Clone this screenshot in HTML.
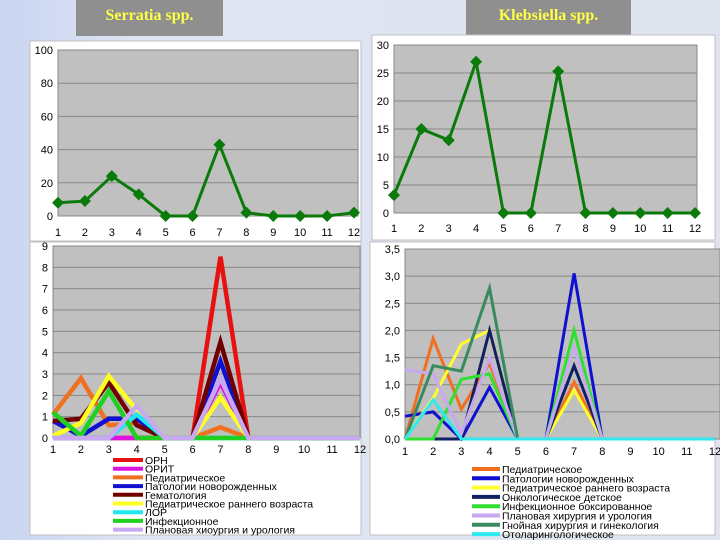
<!DOCTYPE html>
<html><head><meta charset="utf-8">
<style>
html,body{margin:0;padding:0}
body{width:720px;height:540px;overflow:hidden;position:relative;background:linear-gradient(90deg,#c9d5f2 0%,#dfe5f3 20%,#dfe4ef 100%);font-family:"Liberation Sans",sans-serif}
.title{position:absolute;top:0;height:36px;background:#8f8f8f;color:#ffff44;font-family:"Liberation Serif",serif;font-weight:bold;font-size:16px;text-align:center;line-height:32px}
svg{position:absolute;left:0;top:0}
</style></head><body>
<div class="title" style="left:76px;width:147px">Serratia spp.</div>
<div class="title" style="left:466px;width:165px">Klebsiella spp.</div>
<svg id="s" width="720" height="540" xmlns="http://www.w3.org/2000/svg"></svg>
<script>
const months=[1,2,3,4,5,6,7,8,9,10,11,12];
const serratiaValues=[8,9,24,13,0,0,43,2,0,0,0,2];
const serratiaTicks=[0,20,40,60,80,100];
const klebsiellaValues=[3.2,15,13,27,0,0,25.3,0,0,0,0,0];
const klebsiellaTicks=[0,5,10,15,20,25,30];
const blNames=["ОРН","ОРИТ","Педиатрическое","Патологии новорожденных","Гематология","Педиатрическое раннего возраста","ЛОР","Инфекционное","Плановая хиоургия и урология"];
const blColors=["#e81010","#e010e0","#f07020","#1010d0","#700000","#ffff20","#20e8f0","#20d020","#c8a8f0"];
const blValues=[
[0,0,0,0,0,0,8.5,0,0,0,0,0],
[0,0,0,0,0,0,2.6,0,0,0,0,0],
[1.1,2.8,0.6,0.7,0,0,0.5,0,0,0,0,0],
[0.8,0.1,0.9,0.9,0,0,3.6,0,0,0,0,0],
[0.8,0.9,2.6,0.6,0,0,4.5,0,0,0,0,0],
[0.1,0.7,2.9,1.3,0,0,1.9,0,0,0,0,0],
[0,0,0,1.1,0,0,0,0,0,0,0,0],
[1.2,0.1,2.2,0,0,0,0,0,0,0,0,0],
[0,0,0,1.5,0,0,2.8,0,0,0,0,0]];
const blTicks=[0,1,2,3,4,5,6,7,8,9];
const brNames=["Педиатрическое","Патологии новорожденных","Педиатрическое раннего возраста","Онкологическое детское","Инфекционное боксированное","Плановая хирургия и урология","Гнойная хирургия  и гинекология","Отоларингологическое"];
const brColors=["#f07020","#1010d0","#ffff30","#102060","#30e030","#c8a8f0","#3a8a60","#30e8f0"];
const brValues=[
[0,1.85,0.55,1.4,0,0,1.05,0,0,0,0,0],
[0.42,0.5,0,0.95,0,0,3.05,0,0,0,0,0],
[0,0.75,1.75,2.0,0,0,0.9,0,0,0,0,0],
[0,0,0,2.0,0,0,1.35,0,0,0,0,0],
[0,0,1.1,1.2,0,0,2.0,0,0,0,0,0],
[1.28,1.2,0.1,1.5,0,0,1.7,0,0,0,0,0],
[0,1.35,1.25,2.78,0,0,0,0,0,0,0,0],
[0,0.72,0,0,0,0,0,0,0,0,0,0]];
const brTicks=[0,0.5,1,1.5,2,2.5,3,3.5];

const svg=document.getElementById('s');
const NS="http://www.w3.org/2000/svg";
function el(tag,attrs,parent){const e=document.createElementNS(NS,tag);for(const k in attrs)e.setAttribute(k,attrs[k]);(parent||svg).appendChild(e);return e;}

function chart(c){
  const g=el('g',{});
  
  
  const p=el('rect',{x:c.px,y:c.py,width:c.pw,height:c.ph,fill:'#fff',stroke:'#c0c0c0'},g);
  
  
  const pa=el('rect',{x:c.x0,y:c.yTop,width:c.x1-c.x0,height:c.y0-c.yTop,fill:'#c0c0c0',stroke:'#888'},g);
  
  
  const maxT=c.ticks[c.ticks.length-1];
  const Y=v=>c.y0-(v/maxT)*(c.y0-c.yTop);
  const xs=(c.xEnd-c.x0)/(months.length-1);
  const X=i=>c.x0+i*xs;
  c.ticks.forEach(t=>{
    const ln=el('line',{x1:c.x0,x2:c.x1,y1:Y(t),y2:Y(t),stroke:'#888','stroke-width':1},g);
    
    
    const tx=el('text',{x:c.x0-5,y:Y(t)+4,'text-anchor':'end','font-size':11,fill:'#000'},g);
    tx.textContent=c.fmt?c.fmt(t):t;
    
    
  });
  months.forEach((m,i)=>{
    const tx=el('text',{x:X(i),y:c.y0+c.lblDy,'text-anchor':'middle','font-size':11,fill:'#000'},g);
    tx.textContent=m;
    
    
  });
  c.series.forEach((vals,si)=>{
    const pts=vals.map((v,i)=>X(i)+','+Y(v)).join(' ');
    const pl=el('polyline',{points:pts,fill:'none',stroke:c.colors[si],'stroke-width':c.sw,'stroke-linejoin':'miter'},g);
    
    
    if(c.markers){vals.forEach((v,i)=>{
      const d=6;const cx=X(i),cy=Y(v);
      const mk=el('polygon',{points:`${cx},${cy-d} ${cx+d},${cy} ${cx},${cy+d} ${cx-d},${cy}`,fill:c.colors[si]},g);
      
      
    });}
  });
  if(c.names){c.names.forEach((n,i)=>{
    const y=c.ly+i*c.lstep;
    const ll=el('line',{x1:c.lx,x2:c.lx+c.llen,y1:y,y2:y,stroke:c.colors[i],'stroke-width':4},g);
    
    
    const lt=el('text',{x:c.lx+c.llen+2,y:y+4,'font-size':10.5,fill:'#000'},g);
    lt.textContent=n;
    
    
  });}
}
chart({name:'serratia-chart',px:30,py:41,pw:331,ph:200,x0:58,x1:358,xEnd:354,yTop:50,y0:216,ticks:serratiaTicks,series:[serratiaValues],colors:['#0a7a0a'],sw:3,markers:true,lblDy:20});
chart({name:'klebsiella-chart',px:372,py:35,pw:343,ph:205,x0:394,x1:697,xEnd:695,yTop:45,y0:213,ticks:klebsiellaTicks,series:[klebsiellaValues],colors:['#0a7a0a'],sw:3,markers:true,lblDy:19});
chart({name:'serratia-departments-chart',px:30,py:242,pw:331,ph:293,x0:53,x1:360,xEnd:360,yTop:246,y0:438,ticks:blTicks,series:blValues,colors:blColors,sw:4.5,markers:false,lblDy:15,names:blNames,lx:113,llen:30,ly:460,lstep:8.7});
chart({name:'klebsiella-departments-chart',px:370,py:242,pw:345,ph:293,x0:405,x1:720,xEnd:715,yTop:249,y0:439,ticks:brTicks,series:brValues,colors:brColors,sw:3,markers:false,lblDy:16,names:brNames,lx:472,llen:28,ly:469,lstep:9.3,fmt:t=>t.toFixed(1).replace('.',',')});
</script>
</body></html>
